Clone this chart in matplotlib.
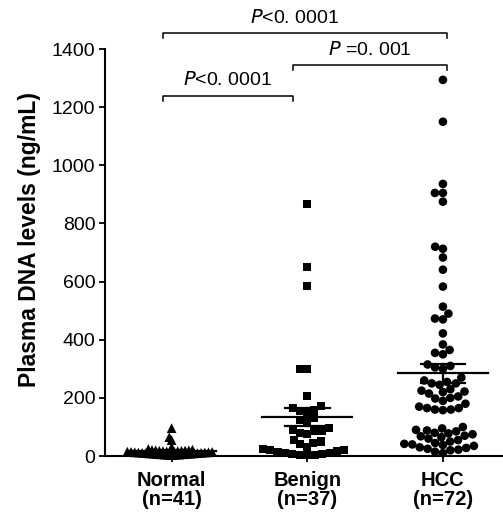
import numpy as np
import matplotlib.pyplot as plt

plt.rcParams['font.family'] = ['Liberation Sans', 'DejaVu Sans']

# data (ng/mL)
groups = ['Normal', 'Benign', 'HCC']
counts = [41, 37, 72]
normal = [96, 65, 55, 30, 24, 22, 21, 20, 20, 19, 18, 18, 17, 17, 16, 16, 15,
          15, 14, 14, 13, 13, 12, 12, 11, 11, 10, 10, 9, 9, 8, 8, 7, 7, 6, 6, 5,
          5, 4, 4, 3]
benign = [868, 651, 586, 298, 298, 206, 171, 165, 160, 155, 150, 130, 125, 120,
          95, 90, 88, 85, 80, 75, 55, 50, 45, 40, 30, 25, 22, 20, 18, 15, 12, 10,
          8, 6, 5, 4, 3]
hcc = [1294, 1150, 936, 905, 905, 875, 720, 713, 683, 641, 583, 514, 490, 473,
       470, 422, 384, 365, 355, 350, 315, 310, 305, 300, 270, 260, 255, 250, 250,
       245, 230, 225, 222, 220, 215, 205, 200, 198, 190, 180, 170, 165, 165, 160,
       160, 158, 100, 95, 90, 88, 85, 80, 78, 75, 70, 68, 65, 60, 55, 50, 45, 42,
       40, 38, 35, 30, 28, 25, 22, 20, 15, 10]
markers = ['^', 's', 'o']
msizes = [7, 5.8, 6.2]
sep_px = [3.7, 7.5, 8.0]   # min distance between points in swarm (pixels)

fig = plt.figure(figsize=(5.03, 5.13), dpi=100)
ax = fig.add_axes([0.209, 0.111, 0.791, 0.7934])
ax.set_xlim(-0.49, 2.443)
ax.set_ylim(0, 1400)

# pixel scales
ax_w_px = 0.791 * 503
ax_h_px = 0.7934 * 513
px_per_x = ax_w_px / (2.443 + 0.49)
px_per_y = ax_h_px / 1400.0


def swarm(vals, d):
    ys = np.sort(np.asarray(vals, float)) * px_per_y
    placed = []
    xs = []
    for y in ys:
        cands = [0.0]
        ivs = []
        for (px, py) in placed:
            dy = abs(y - py)
            if dy < d:
                w = np.sqrt(d * d - dy * dy)
                ivs.append((px - w, px + w))
                cands += [px - w, px + w]
        cands = sorted(cands, key=lambda c: (abs(c), c))
        for c in cands:
            if all(not (a + 1e-9 < c < b - 1e-9) for a, b in ivs):
                break
        placed.append((c, y))
        xs.append(c)
    return np.array(xs) / px_per_x, ys / px_per_y


for i, vals in enumerate([normal, benign, hcc]):
    ox, yv = swarm(vals, sep_px[i])
    ax.scatter(i + ox, yv, marker=markers[i], s=msizes[i] ** 2, color='black',
               edgecolors='none', zorder=3, clip_on=False)
    m = np.mean(vals)
    sem = np.std(vals, ddof=1) / np.sqrt(len(vals))
    ax.plot([i - 0.33, i + 0.33], [m, m], color='black', lw=1.6, zorder=4)
    ax.plot([i - 0.165, i + 0.165], [m + sem, m + sem], color='black', lw=1.6, zorder=4)
    ax.plot([i - 0.165, i + 0.165], [m - sem, m - sem], color='black', lw=1.6, zorder=4)
    ax.plot([i, i], [m - sem, m + sem], color='black', lw=1.6, zorder=4)

for s in ['top', 'right']:
    ax.spines[s].set_visible(False)
for s in ['left', 'bottom']:
    ax.spines[s].set_linewidth(1.5)

ax.set_yticks(np.arange(0, 1401, 200))
ax.tick_params(axis='y', direction='out', length=4, width=1.3, labelsize=14, pad=3)
ax.set_xticks([0, 1, 2])
ax.set_xticklabels([f'{g}\n(n={n})' for g, n in zip(groups, counts)],
                   fontsize=14.5, fontweight='bold', linespacing=1.0)
ax.tick_params(axis='x', direction='out', length=4, width=1.3, pad=7)
ax.set_ylabel('Plasma DNA levels (ng/mL)', fontsize=16.5, fontweight='bold')
ax.yaxis.set_label_coords(-0.16, 0.532)


def bracket(x0, x1, y, label, tx):
    ax.plot([x0, x0, x1, x1], [y - 16, y, y, y - 16], color='black', lw=1.1,
            clip_on=False)
    ax.text(tx, y + 22, label, ha='center', va='bottom', fontsize=14,
            clip_on=False)


bracket(-0.066, 2.03, 1455, r'$\it{P}$<0. 0001', 0.907)
bracket(0.893, 2.03, 1345, r'$\it{P}$ =0. 001', 1.46)
bracket(-0.066, 0.893, 1239, r'$\it{P}$<0. 0001', 0.41)

fig.savefig('out.png', dpi=100)
